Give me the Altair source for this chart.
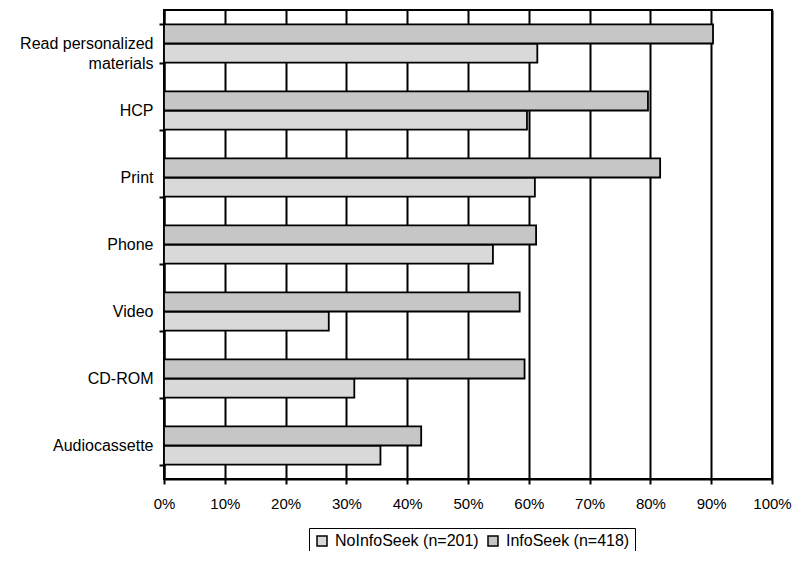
import altair as alt
import pandas as pd

categories = ["Read personalized materials", "HCP", "Print", "Phone", "Video", "CD-ROM", "Audiocassette"]
infoseek = [90.3, 79.6, 81.6, 61.2, 58.5, 59.3, 42.3]
noinfoseek = [61.4, 59.7, 61.0, 54.1, 27.1, 31.3, 35.6]
series_names = ["NoInfoSeek (n=201)", "InfoSeek (n=418)"]
x_ticks = [0, 10, 20, 30, 40, 50, 60, 70, 80, 90, 100]

rows = []
for c, a, b in zip(categories, noinfoseek, infoseek):
    rows.append({"category": c, "series": series_names[0], "value": a})
    rows.append({"category": c, "series": series_names[1], "value": b})
df = pd.DataFrame(rows)

nb = "\u00a0" * 8
label_expr = ("datum.value == 'Read personalized materials' ? "
              "['Read personalized', 'materials" + nb + "'] : datum.value")

chart = alt.Chart(df).mark_bar(stroke="black", strokeWidth=1.8).encode(
    x=alt.X("value:Q",
            scale=alt.Scale(domain=[0, 100], nice=False),
            axis=alt.Axis(values=x_ticks, labelExpr="datum.value + '%'", title=None,
                          grid=True, gridColor="black", gridWidth=2, gridOpacity=1,
                          domainColor="black", domainWidth=2,
                          tickColor="black", tickWidth=2, tickSize=5,
                          labelFlush=False, labelOverlap=False,
                          labelPadding=12, labelFontSize=15, labelColor="black")),
    y=alt.Y("category:N", sort=categories,
            scale=alt.Scale(paddingInner=0.43, paddingOuter=0.215),
            axis=alt.Axis(title=None, grid=False, labelExpr=label_expr,
                          tickBand="extent", domainColor="black", domainWidth=2,
                          tickColor="black", tickWidth=2, tickSize=5,
                          labelPadding=6, labelFontSize=16, labelColor="black",
                          labelLineHeight=20, labelLimit=300)),
    yOffset=alt.YOffset("series:N", scale=alt.Scale(domain=[series_names[1], series_names[0]])),
    color=alt.Color("series:N",
                    scale=alt.Scale(domain=series_names, range=["#d9d9d9", "#c6c6c6"]),
                    legend=alt.Legend(title=None, orient="none", direction="horizontal",
                                      legendX=145, legendY=518,
                                      symbolType="square", symbolSize=100,
                                      symbolStrokeColor="black", symbolStrokeWidth=1.5,
                                      symbolOpacity=1,
                                      labelFontSize=16, labelColor="black", labelOffset=5,
                                      columnPadding=6, padding=5,
                                      strokeColor="black",
                                      fillColor="white")),
).properties(
    width=608,
    height=469,
    autosize=alt.AutoSizeParams(type="none"),
    padding={"left": 156, "top": 2, "right": 20, "bottom": 72},
).configure(
    font="Liberation Sans",
).configure_view(
    stroke="black", strokeWidth=2,
)

chart.save("out.html", embed_options={"renderer": "svg", "actions": False})
